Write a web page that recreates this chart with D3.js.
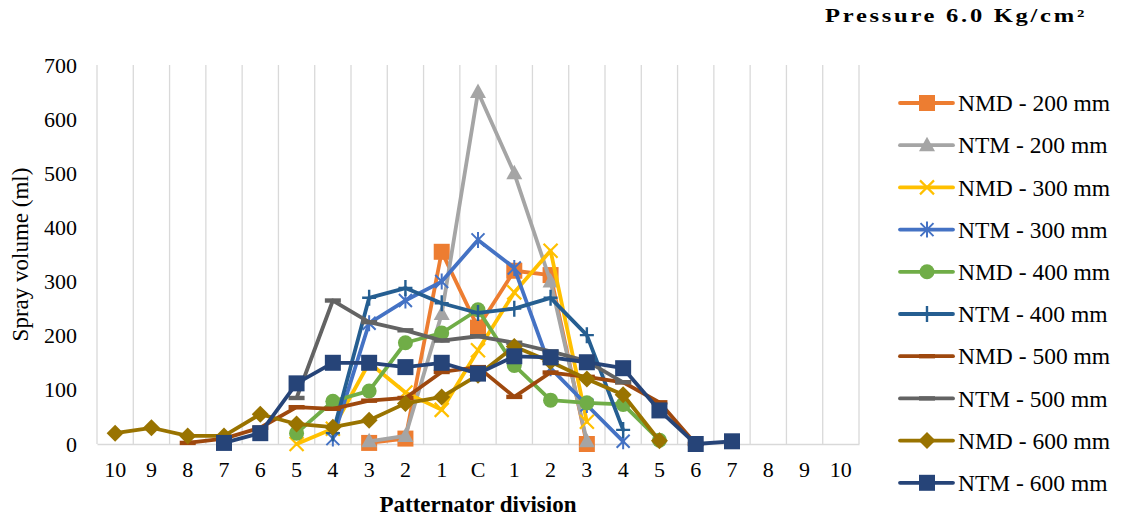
<!DOCTYPE html>
<html>
<head>
<meta charset="utf-8">
<script src="https://cdn.jsdelivr.net/npm/d3@7/dist/d3.min.js"></script>
<style>
  html, body { margin: 0; padding: 0; background: #ffffff; }
  svg { display: block; }
  text { font-family: "Liberation Serif", "Times New Roman", serif; fill: #000; }
</style>
</head>
<body>
<svg id="chart" width="1122" height="519"></svg>
<script>
// Patternator positions, left edge through centre (C) to right edge
const divisions = ["10","9","8","7","6","5","4","3","2","1","C","1","2","3","4","5","6","7","8","9","10"];
const yTicks = [0, 100, 200, 300, 400, 500, 600, 700];

// Spray volume (ml) per division; null = no reading at that division
const nmd200 = [null,null,null,null,null,null,null,2,10,355,215,320,312,0,null,null,null,null,null,null,null];
const ntm200 = [null,null,null,null,null,null,null,5,15,240,650,500,300,5,null,null,null,null,null,null,null];
const nmd300 = [null,null,null,null,null,0,28,150,95,63,173,280,357,41,null,null,null,null,null,null,null];
const ntm300 = [null,null,null,null,null,null,10,223,265,300,377,325,140,72,5,null,null,null,null,null,null];
const nmd400 = [null,null,null,null,null,20,79,98,187,205,248,145,81,76,73,7,null,null,null,null,null];
const ntm400 = [null,null,null,null,null,null,20,270,288,260,242,250,270,201,26,null,null,null,null,null,null];
const nmd500 = [null,null,2,10,30,68,65,80,85,133,142,87,132,124,114,77,0,null,null,null,null];
const ntm500 = [null,null,null,null,null,85,265,225,210,191,199,187,171,153,114,null,null,null,null,null,null];
const nmd600 = [20,30,15,15,55,37,31,44,75,87,127,180,152,120,91,6,null,null,null,null,null];
const ntm600 = [null,null,null,2,20,112,150,150,142,150,130,162,160,151,140,62,0,5,null,null,null];

const seriesNames = ["NMD - 200 mm","NTM - 200 mm","NMD - 300 mm","NTM - 300 mm","NMD - 400 mm",
                     "NTM - 400 mm","NMD - 500 mm","NTM - 500 mm","NMD - 600 mm","NTM - 600 mm"];
const seriesValues = [nmd200, ntm200, nmd300, ntm300, nmd400, ntm400, nmd500, ntm500, nmd600, ntm600];
const seriesColors = ["#ED7D31","#A5A5A5","#FFC000","#4472C4","#70AD47",
                      "#255E91","#9E480E","#636363","#997300","#264478"];
const seriesMarkers = ["square","triangle","x","asterisk","circle","plus","dash","dash","diamond","square"];

const svg = d3.select("#chart");
const plot = { left: 97, right: 859, top: 65, bottom: 444 };

const x = d3.scaleBand().domain(d3.range(divisions.length)).range([plot.left, plot.right]).padding(0);
const y = d3.scaleLinear().domain([0, 700]).range([plot.bottom, plot.top]);
const cx = i => x(i) + x.bandwidth() / 2;

// vertical gridlines at division boundaries
const bounds = d3.range(divisions.length + 1).map(i => plot.left + i * x.bandwidth());
svg.append("g").selectAll("line").data(bounds).join("line")
  .attr("x1", d => d).attr("x2", d => d)
  .attr("y1", plot.top).attr("y2", plot.bottom)
  .attr("stroke", "#d9d9d9").attr("stroke-width", 1.3);

// x axis (category labels, no tick marks)
const xAxis = svg.append("g").attr("transform", `translate(0,${plot.bottom})`)
  .call(d3.axisBottom(x).tickSize(0).tickPadding(17).tickFormat(i => divisions[i]));
xAxis.select(".domain").attr("stroke", "#d9d9d9").attr("stroke-width", 1.3);
xAxis.selectAll("text").attr("font-size", 22).attr("font-family", "Liberation Serif").attr("fill", "#000");

// y axis (labels only)
const yAxis = svg.append("g").attr("transform", `translate(${plot.left},0)`)
  .call(d3.axisLeft(y).tickValues(yTicks).tickSize(0).tickPadding(20).tickFormat(d3.format("d")));
yAxis.select(".domain").remove();
yAxis.selectAll("text").attr("font-size", 22).attr("font-family", "Liberation Serif").attr("fill", "#000");

// axis titles
svg.append("text").attr("x", (plot.left + plot.right) / 2).attr("y", 512)
  .attr("text-anchor", "middle").attr("font-size", 23).attr("font-weight", "bold")
  .text("Patternator division");
svg.append("text").attr("transform", `translate(28,${(plot.top + plot.bottom) / 2}) rotate(-90)`)
  .attr("text-anchor", "middle").attr("font-size", 23)
  .text("Spray volume (ml)");

// chart title (wide, letter-spaced)
svg.append("text").attr("x", 825).attr("y", 22).attr("text-anchor", "start")
  .attr("font-size", 18).attr("font-weight", "bold")
  .attr("textLength", 262).attr("lengthAdjust", "spacingAndGlyphs")
  .attr("letter-spacing", 2)
  .text("Pressure 6.0 Kg/cm²");

// marker drawing
function drawMarker(g, type, color) {
  switch (type) {
    case "square":
      g.append("rect").attr("x", -8).attr("y", -8).attr("width", 16).attr("height", 16).attr("fill", color);
      break;
    case "triangle":
      g.append("path").attr("d", "M0,-8.5L8,6L-8,6Z").attr("fill", color);
      break;
    case "circle":
      g.append("circle").attr("r", 7.5).attr("fill", color);
      break;
    case "diamond":
      g.append("path").attr("d", "M0,-8.5L8.5,0L0,8.5L-8.5,0Z").attr("fill", color);
      break;
    case "x":
      g.append("path").attr("d", "M-7,-7L7,7M-7,7L7,-7").attr("stroke", color).attr("stroke-width", 2.2).attr("fill", "none");
      break;
    case "asterisk":
      g.append("path").attr("d", "M-6.5,-6.5L6.5,6.5M-6.5,6.5L6.5,-6.5M0,-8L0,8").attr("stroke", color).attr("stroke-width", 2).attr("fill", "none");
      break;
    case "plus":
      g.append("path").attr("d", "M-7,0L7,0M0,-8L0,8").attr("stroke", color).attr("stroke-width", 2.4).attr("fill", "none");
      break;
    case "dash":
      g.append("rect").attr("x", -8).attr("y", -2.2).attr("width", 16).attr("height", 4.4).attr("fill", color);
      break;
  }
}

const line = d3.line()
  .defined(d => d.v !== null)
  .x(d => cx(d.i))
  .y(d => y(d.v));

const seriesG = svg.append("g");
seriesValues.forEach((vals, s) => {
  const pts = vals.map((v, i) => ({ i, v }));
  const g = seriesG.append("g");
  g.append("path").datum(pts).attr("d", line)
    .attr("fill", "none").attr("stroke", seriesColors[s]).attr("stroke-width", 3.8)
    .attr("stroke-linejoin", "round").attr("stroke-linecap", "round");
  pts.filter(d => d.v !== null).forEach(d => {
    const m = g.append("g").attr("transform", `translate(${cx(d.i)},${y(d.v)})`);
    drawMarker(m, seriesMarkers[s], seriesColors[s]);
  });
});

// legend
const legend = svg.append("g");
seriesNames.forEach((name, s) => {
  const ly = 103 + s * 42.2;
  const row = legend.append("g").attr("transform", `translate(0,${ly})`);
  row.append("line").attr("x1", 900).attr("x2", 953).attr("y1", 0).attr("y2", 0)
    .attr("stroke", seriesColors[s]).attr("stroke-width", 3.8).attr("stroke-linecap", "round");
  drawMarker(row.append("g").attr("transform", "translate(927,0)"), seriesMarkers[s], seriesColors[s]);
  row.append("text").attr("x", 958).attr("y", 0).attr("dy", "0.35em")
    .attr("font-size", 23.5).text(name);
});
</script>
</body>
</html>
